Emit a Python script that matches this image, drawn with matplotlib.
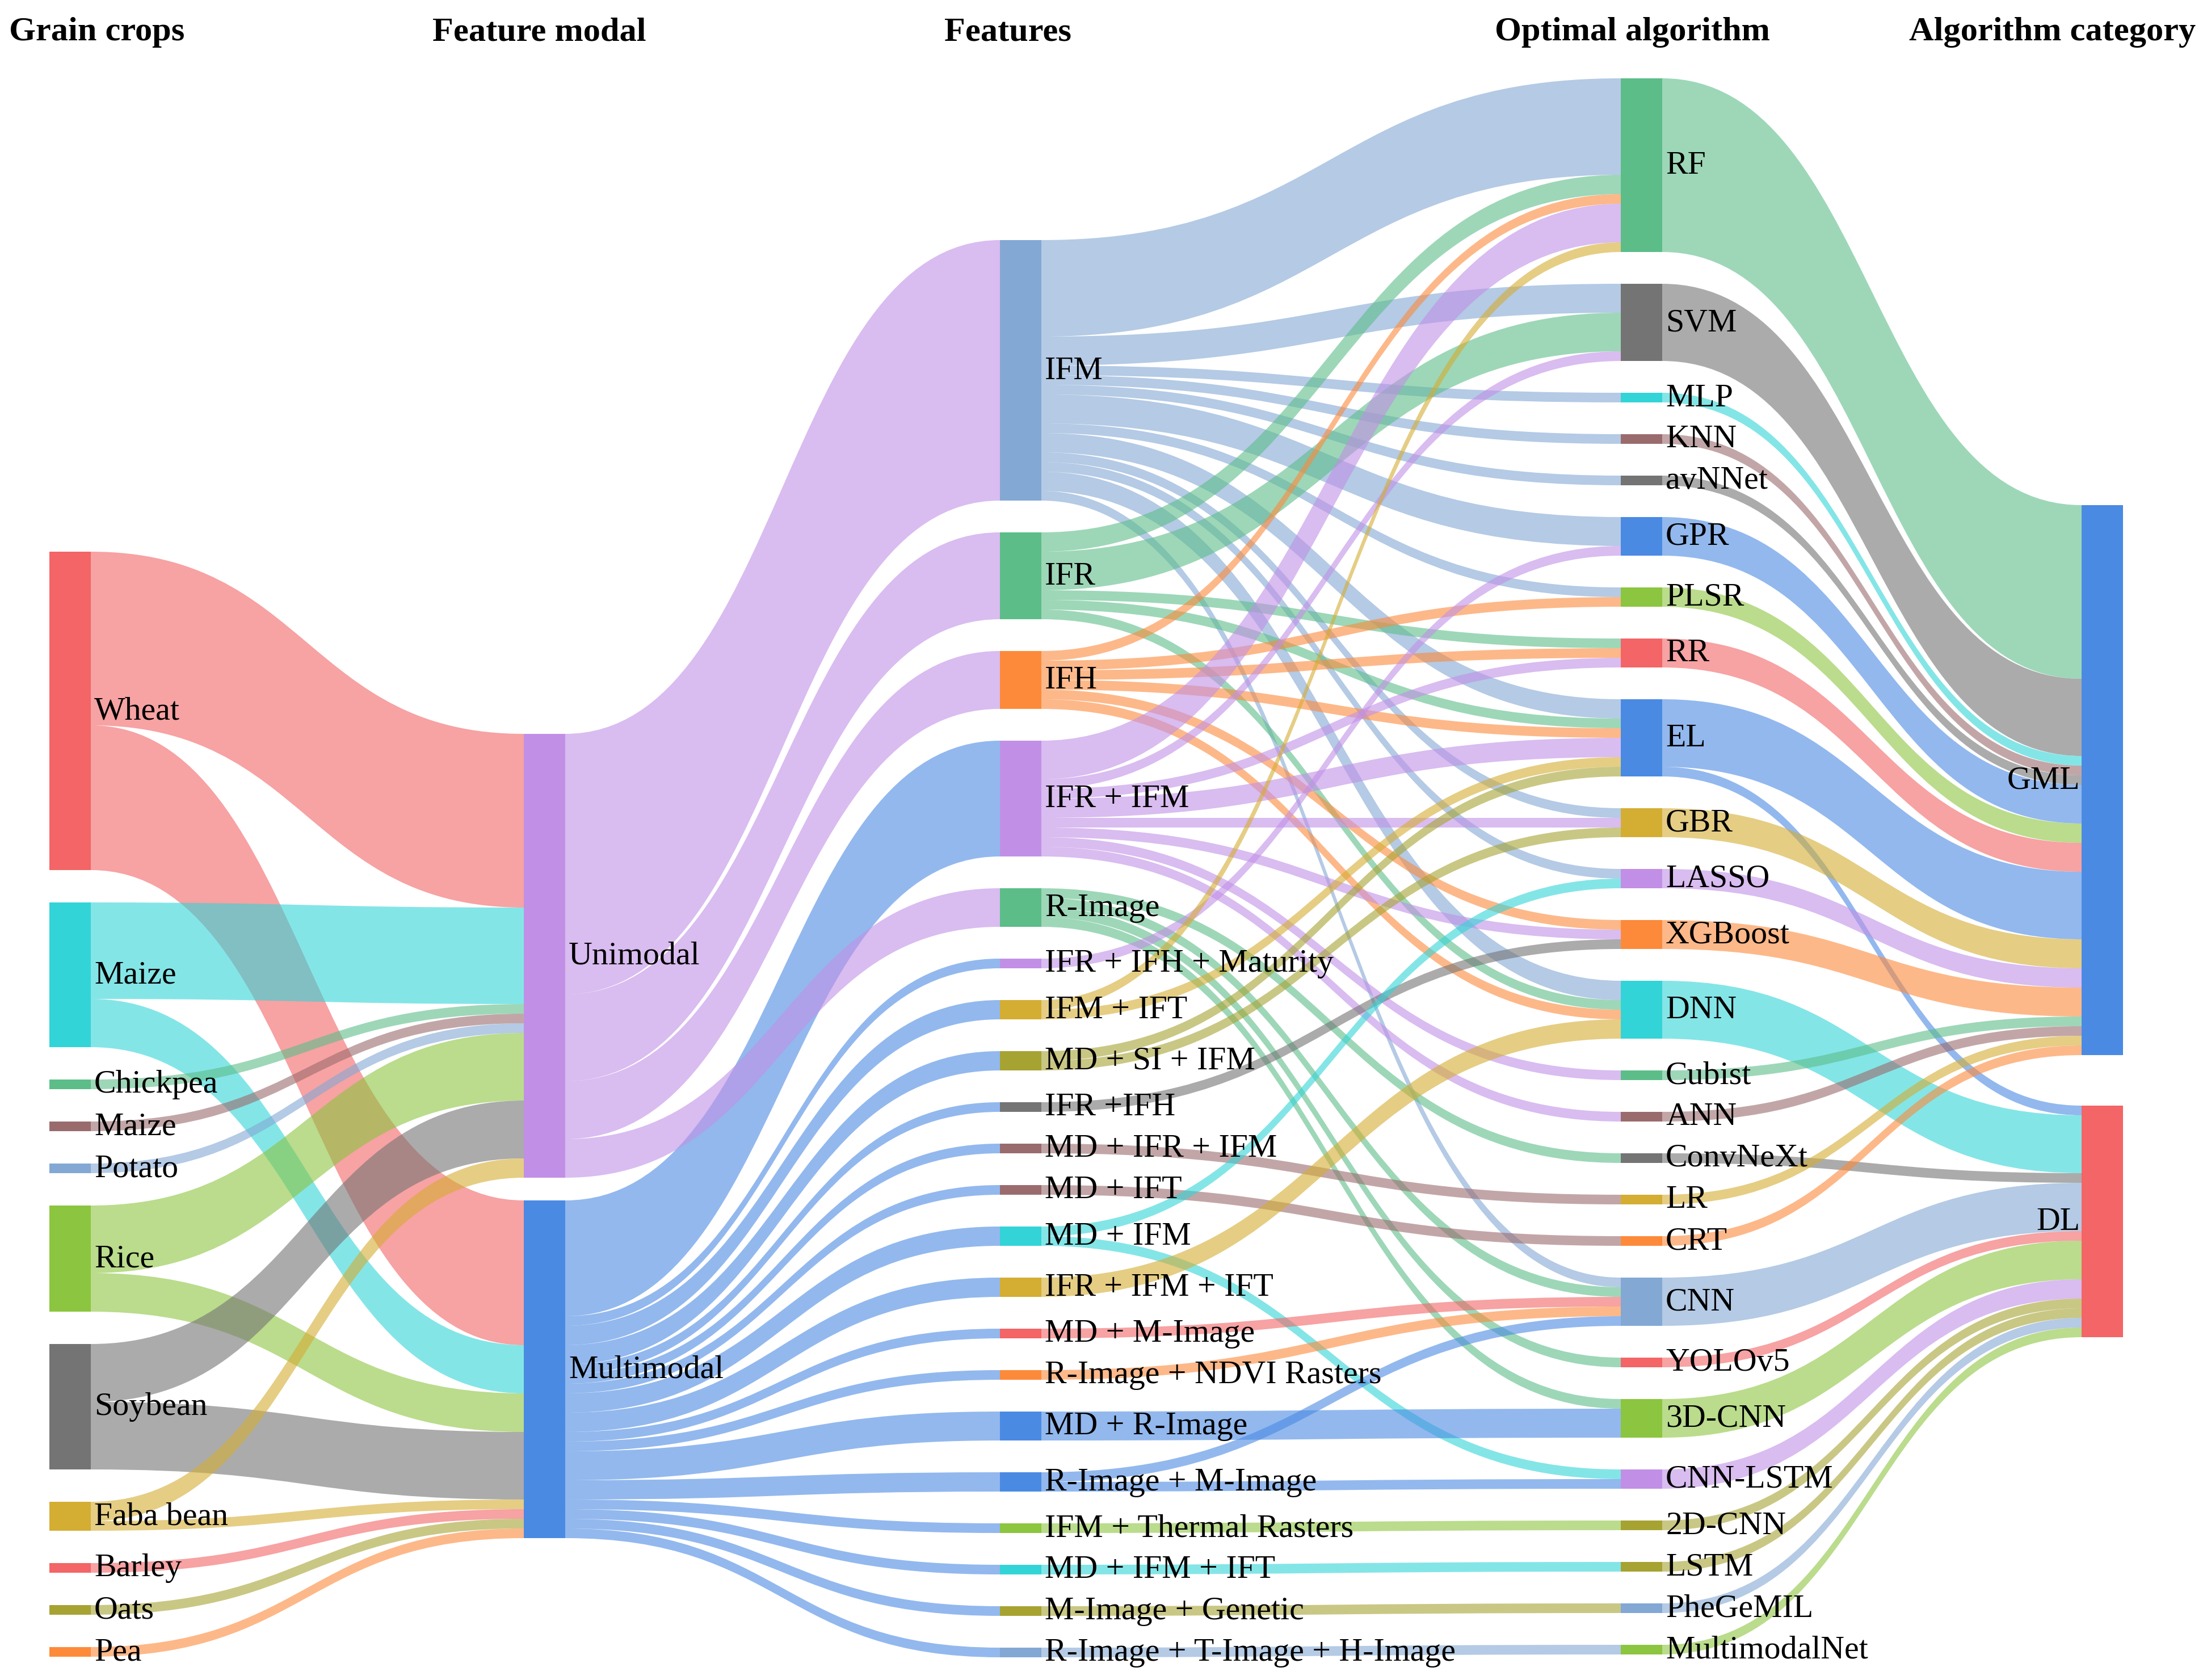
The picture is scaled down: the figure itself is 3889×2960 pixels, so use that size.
import matplotlib
matplotlib.use("Agg")
import matplotlib.pyplot as plt
from matplotlib.path import Path
from matplotlib.patches import PathPatch, Rectangle

# ---- data (number of studies) ----
crops = ["Wheat", "Maize", "Chickpea", "Maize", "Potato", "Rice", "Soybean",
         "Faba bean", "Barley", "Oats", "Pea"]
crop_to_unimodal = [18, 10, 1, 1, 1, 7, 6, 2, 0, 0, 0]
crop_to_multimodal = [15, 5, 0, 0, 0, 4, 7, 1, 1, 1, 1]

modals = ["Unimodal", "Multimodal"]

features = ["IFM", "IFR", "IFH", "IFR + IFM", "R-Image", "IFR + IFH + Maturity",
            "IFM + IFT", "MD + SI + IFM", "IFR +IFH", "MD + IFR + IFM", "MD + IFT",
            "MD + IFM", "IFR + IFM + IFT", "MD + M-Image", "R-Image + NDVI Rasters",
            "MD + R-Image", "R-Image + M-Image", "IFM + Thermal Rasters",
            "MD + IFM + IFT", "M-Image + Genetic", "R-Image + T-Image + H-Image"]
# 0 = Unimodal, 1 = Multimodal
feature_modal = [0, 0, 0, 1, 0, 1, 1, 1, 1, 1, 1, 1, 1, 1, 1, 1, 1, 1, 1, 1, 1]

algorithms = ["RF", "SVM", "MLP", "KNN", "avNNet", "GPR", "PLSR", "RR", "EL", "GBR",
              "LASSO", "XGBoost", "DNN", "Cubist", "ANN", "ConvNeXt", "LR", "CRT",
              "CNN", "YOLOv5", "3D-CNN", "CNN-LSTM", "2D-CNN", "LSTM", "PheGeMIL",
              "MultimodalNet"]

feature_algorithm = [
    ("IFM", "RF", 10), ("IFM", "SVM", 3), ("IFM", "MLP", 1), ("IFM", "KNN", 1),
    ("IFM", "avNNet", 1), ("IFM", "GPR", 3), ("IFM", "PLSR", 1), ("IFM", "EL", 2),
    ("IFM", "GBR", 1), ("IFM", "LASSO", 1), ("IFM", "DNN", 2), ("IFM", "CNN", 1),
    ("IFR", "RF", 2), ("IFR", "SVM", 4), ("IFR", "RR", 1), ("IFR", "EL", 1), ("IFR", "DNN", 1),
    ("IFH", "RF", 1), ("IFH", "PLSR", 1), ("IFH", "RR", 1), ("IFH", "EL", 1),
    ("IFH", "XGBoost", 1), ("IFH", "DNN", 1),
    ("IFR + IFM", "RF", 4), ("IFR + IFM", "SVM", 1), ("IFR + IFM", "RR", 1),
    ("IFR + IFM", "EL", 2), ("IFR + IFM", "GBR", 1), ("IFR + IFM", "XGBoost", 1),
    ("IFR + IFM", "Cubist", 1), ("IFR + IFM", "ANN", 1),
    ("R-Image", "ConvNeXt", 1), ("R-Image", "CNN", 1), ("R-Image", "YOLOv5", 1),
    ("R-Image", "3D-CNN", 1),
    ("IFR + IFH + Maturity", "GPR", 1),
    ("IFM + IFT", "RF", 1), ("IFM + IFT", "EL", 1),
    ("MD + SI + IFM", "EL", 1), ("MD + SI + IFM", "GBR", 1),
    ("IFR +IFH", "XGBoost", 1),
    ("MD + IFR + IFM", "LR", 1),
    ("MD + IFT", "CRT", 1),
    ("MD + IFM", "LASSO", 1), ("MD + IFM", "CNN-LSTM", 1),
    ("IFR + IFM + IFT", "DNN", 2),
    ("MD + M-Image", "CNN", 1),
    ("R-Image + NDVI Rasters", "CNN", 1),
    ("MD + R-Image", "3D-CNN", 3),
    ("R-Image + M-Image", "CNN", 1), ("R-Image + M-Image", "CNN-LSTM", 1),
    ("IFM + Thermal Rasters", "2D-CNN", 1),
    ("MD + IFM + IFT", "LSTM", 1),
    ("M-Image + Genetic", "PheGeMIL", 1),
    ("R-Image + T-Image + H-Image", "MultimodalNet", 1),
]

categories = ["GML", "DL"]
algo_to_gml = [18, 8, 1, 1, 1, 4, 2, 3, 7, 3, 2, 3, 0, 1, 1, 0, 1, 1, 0, 0, 0, 0, 0, 0, 0, 0]
algo_to_dl = [0, 0, 0, 0, 0, 0, 0, 0, 1, 0, 0, 0, 6, 0, 0, 1, 0, 0, 5, 1, 4, 2, 1, 1, 1, 1]

headers = ["Grain crops", "Feature modal", "Features", "Optimal algorithm", "Algorithm category"]

# ---- colours ----
RED, CYAN, GREEN, MAUVE = "#f36566", "#33d4d7", "#5cbd89", "#9a6b6d"
BGRAY, YGREEN, GRAY, GOLD = "#83a8d4", "#8cc53f", "#747474", "#d4ad33"
OLIVE, ORANGE, PURPLE, BLUE = "#a6a332", "#fd8a3a", "#c190e6", "#4a8ae3"

col_colors = [
    [RED, CYAN, GREEN, MAUVE, BGRAY, YGREEN, GRAY, GOLD, RED, OLIVE, ORANGE],
    [PURPLE, BLUE],
    [BGRAY, GREEN, ORANGE, PURPLE, GREEN, PURPLE, GOLD, OLIVE, GRAY, MAUVE, MAUVE,
     CYAN, GOLD, RED, ORANGE, BLUE, BLUE, YGREEN, CYAN, OLIVE, BGRAY],
    [GREEN, GRAY, CYAN, MAUVE, GRAY, BLUE, YGREEN, RED, BLUE, GOLD, PURPLE, ORANGE,
     CYAN, GREEN, MAUVE, GRAY, GOLD, ORANGE, BGRAY, RED, YGREEN, PURPLE, OLIVE,
     OLIVE, BGRAY, YGREEN],
    [BLUE, RED],
]

# ---- layout (pixels of the 3889 x 2961 canvas) ----
W, H = 3889, 2961
UNIT = 17.0
NODE_W = 73
col_x = [87, 923, 1762, 2856, 3668]
col_top = [973, 1294, 424, 139, 891]
col_gap = [57, 40, 56, 56, 89]
header_x = [171, 950, 1776, 2876, 3617]

columns = [crops, modals, features, algorithms, categories]

# ---- build links ----
links = []
for i in range(len(crops)):
    if crop_to_unimodal[i]:
        links.append(((0, i), (1, 0), crop_to_unimodal[i]))
    if crop_to_multimodal[i]:
        links.append(((0, i), (1, 1), crop_to_multimodal[i]))
feat_out = {f: 0 for f in features}
for f, a, v in feature_algorithm:
    feat_out[f] += v
for j, f in enumerate(features):
    links.append(((1, feature_modal[j]), (2, j), feat_out[f]))
for f, a, v in feature_algorithm:
    links.append(((2, features.index(f)), (3, algorithms.index(a)), v))
for k in range(len(algorithms)):
    if algo_to_gml[k]:
        links.append(((3, k), (4, 0), algo_to_gml[k]))
    if algo_to_dl[k]:
        links.append(((3, k), (4, 1), algo_to_dl[k]))

# node values
val_in, val_out = {}, {}
for s, t, v in links:
    val_out[s] = val_out.get(s, 0) + v
    val_in[t] = val_in.get(t, 0) + v
node_y = {}
node_h = {}
for c, names in enumerate(columns):
    y = col_top[c]
    for i in range(len(names)):
        key = (c, i)
        h = max(val_in.get(key, 0), val_out.get(key, 0)) * UNIT
        node_y[key] = y
        node_h[key] = h
        y += h + col_gap[c]

# link offsets: outgoing sorted by target position, incoming by source position
src_off, dst_off = {}, {}
out_used = {k: 0.0 for k in node_y}
in_used = {k: 0.0 for k in node_y}
for idx in sorted(range(len(links)), key=lambda n: (links[n][0], node_y[links[n][1]])):
    s, t, v = links[idx]
    src_off[idx] = node_y[s] + out_used[s]
    out_used[s] += v * UNIT
for idx in sorted(range(len(links)), key=lambda n: (links[n][1], node_y[links[n][0]])):
    s, t, v = links[idx]
    dst_off[idx] = node_y[t] + in_used[t]
    in_used[t] += v * UNIT

fig = plt.figure(figsize=(W / 300, H / 300), dpi=300)
ax = fig.add_axes([0, 0, 1, 1])
ax.set_xlim(0, W)
ax.set_ylim(H, 0)
ax.axis("off")

for idx, (s, t, v) in enumerate(links):
    x0 = col_x[s[0]] + NODE_W
    x1 = col_x[t[0]]
    xm = (x0 + x1) / 2
    th = v * UNIT
    y0, y1 = src_off[idx], dst_off[idx]
    verts = [(x0, y0), (xm, y0), (xm, y1), (x1, y1),
             (x1, y1 + th), (xm, y1 + th), (xm, y0 + th), (x0, y0 + th), (x0, y0)]
    codes = [Path.MOVETO, Path.CURVE4, Path.CURVE4, Path.CURVE4,
             Path.LINETO, Path.CURVE4, Path.CURVE4, Path.CURVE4, Path.CLOSEPOLY]
    ax.add_patch(PathPatch(Path(verts, codes), facecolor=col_colors[s[0]][s[1]],
                           edgecolor="none", alpha=0.6, zorder=1))

font = "Liberation Serif"
for c, names in enumerate(columns):
    for i, name in enumerate(names):
        key = (c, i)
        ax.add_patch(Rectangle((col_x[c], node_y[key]), NODE_W, node_h[key],
                               facecolor=col_colors[c][i], edgecolor="none", zorder=2))
        yc = node_y[key] + node_h[key] / 2
        if c == len(columns) - 1:
            ax.text(col_x[c] - 3, yc, name, ha="right", va="center",
                    fontsize=13.9, family=font, zorder=3)
        else:
            ax.text(col_x[c] + NODE_W + 6, yc, name, ha="left", va="center",
                    fontsize=13.9, family=font, zorder=3)

for c, title in enumerate(headers):
    ax.text(header_x[c], 57, title, ha="center", va="center", fontsize=14.5,
            fontweight="bold", family=font)

fig.savefig("out.png", dpi=300, facecolor="white")
